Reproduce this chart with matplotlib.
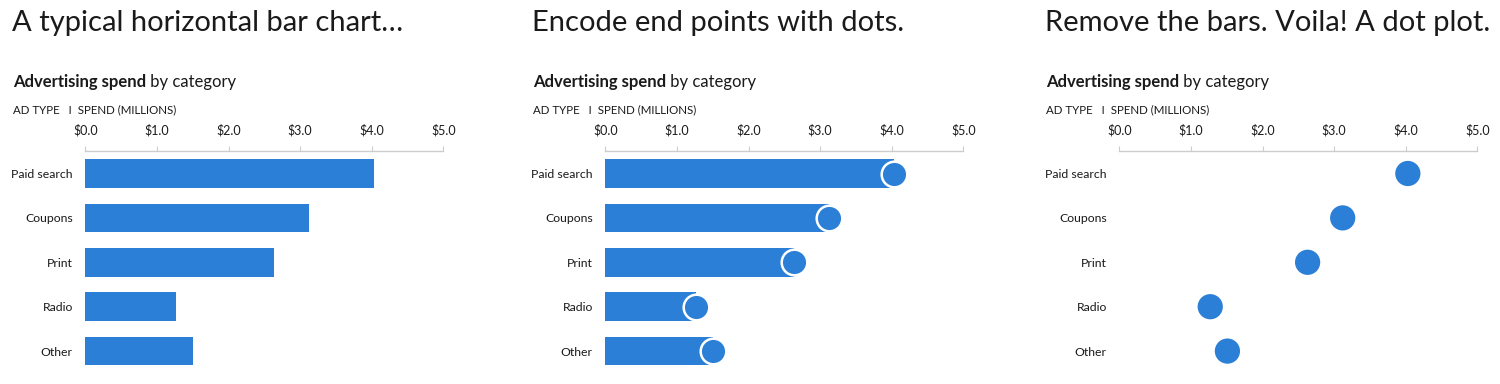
import matplotlib
matplotlib.use("Agg")
import matplotlib.pyplot as plt

categories = ["Paid search", "Coupons", "Print", "Radio", "Other"]
spend = [4.03, 3.12, 2.63, 1.27, 1.51]
xticks = [0, 1, 2, 3, 4, 5]
xtick_labels = ["$0.0", "$1.0", "$2.0", "$3.0", "$4.0", "$5.0"]
titles = ["A typical horizontal bar chart…", "Encode end points with dots.",
          "Remove the bars. Voila! A dot plot."]

plt.rcParams['font.family'] = ['Lato', 'DejaVu Sans']

W, H = 1500, 384
fig = plt.figure(figsize=(W / 100, H / 100), dpi=100)
fig.patch.set_facecolor("white")

BLUE = "#2B7FD6"
TXT = "#1a1a1a"
GRAY = "#cccccc"

panel_x0 = [85.3, 605.3, 1119.3]
title_x = [12, 532, 1045]
axis_w = 358
axis_top = 151
row0 = 173.5
row_h = 44.4

fig.canvas.draw()
renderer = fig.canvas.get_renderer()

for p in range(3):
    x0 = panel_x0[p]
    ax = fig.add_axes([x0 / W, 0, axis_w / W, (H - axis_top) / H])
    ax.set_xlim(0, 5)
    ax.set_ylim((H - row0) / row_h, (axis_top - row0) / row_h)
    ypos = list(range(len(categories)))
    if p < 2:
        ax.barh(ypos, spend, height=0.64, color=BLUE, zorder=2)
    if p == 1:
        ax.scatter(spend, ypos, s=340, color=BLUE, edgecolors="white",
                   linewidths=1.8, zorder=3, clip_on=False)
    if p == 2:
        ax.scatter(spend, ypos, s=330, color=BLUE, edgecolors="none",
                   zorder=3, clip_on=False)
    for s in ["left", "right", "bottom"]:
        ax.spines[s].set_visible(False)
    ax.spines["top"].set_color(GRAY)
    ax.spines["top"].set_linewidth(1.0)
    ax.xaxis.set_ticks_position("top")
    ax.set_xticks(xticks)
    ax.set_xticklabels(xtick_labels)
    ax.tick_params(axis="x", direction="out", length=3.5, width=0.8, color=GRAY,
                   labelsize=9, labelcolor=TXT, pad=7)
    ax.set_yticks(ypos)
    ax.set_yticklabels(categories)
    ax.tick_params(axis="y", length=0, labelsize=8.8, labelcolor=TXT, pad=9)
    ax.set_facecolor("none")

    # big title
    fig.text(title_x[p] / W, 1 - 23 / H, titles[p], fontsize=21, color=TXT,
             va="center", ha="left")
    # subtitle (bold part + regular part)
    sx = (title_x[p] + 1) / W
    sy = 1 - 82 / H
    t1 = fig.text(sx, sy, "Advertising spend", fontsize=12, fontweight="bold",
                  color=TXT, va="center", ha="left")
    bb = t1.get_window_extent(renderer=renderer)
    fig.text(bb.x1 / W, sy, " by category", fontsize=12, color=TXT,
             va="center", ha="left")
    fig.text(sx, 1 - 110 / H, "AD TYPE   I  SPEND (MILLIONS)", fontsize=8.3,
             color=TXT, va="center", ha="left")

fig.savefig("out.png", dpi=100, facecolor="white")
